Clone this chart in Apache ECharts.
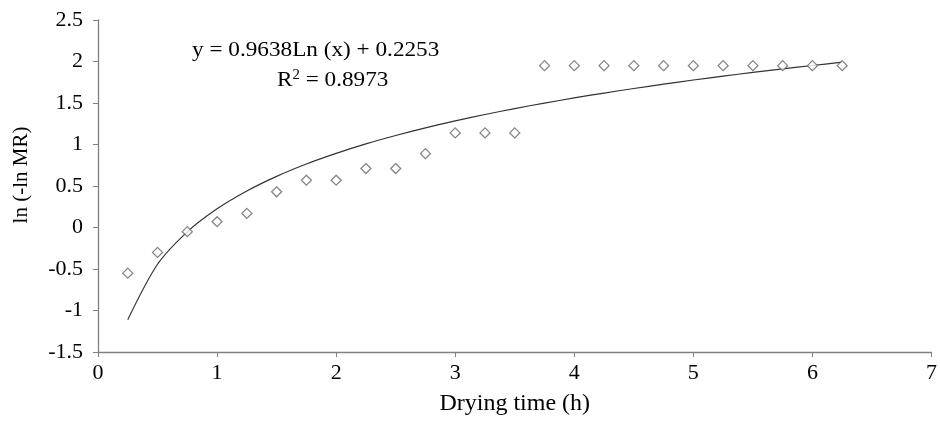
<!DOCTYPE html>
<html><head><meta charset="utf-8">
<script src="https://cdn.jsdelivr.net/npm/echarts@6/dist/echarts.min.js"></script>
<style>html,body{margin:0;padding:0;background:#fff}#c{width:940px;height:421px}</style>
</head><body><div id="c"></div>
<script>
const times = [0.25,0.5,0.75,1,1.25,1.5,1.75,2,2.25,2.5,2.75,3,3.25,3.5,3.75,4,4.25,4.5,4.75,5,5.25,5.5,5.75,6,6.25];
const observed = [-0.55,-0.30,-0.05,0.07,0.17,0.43,0.57,0.57,0.71,0.71,0.89,1.14,1.14,1.14,1.95,1.95,1.95,1.95,1.95,1.95,1.95,1.95,1.95,1.95,1.95];
const trend = [-1.111,-0.443,-0.052,0.225,0.440,0.616,0.765,0.893,1.007,1.108,1.200,1.284,1.361,1.433,1.499,1.561,1.620,1.675,1.727,1.777,1.824,1.868,1.911,1.952,1.992];
const eqText = 'y = 0.9638Ln (x) + 0.2253';
const r2Text = 'R{sup|2} = 0.8973';
const font = '"Liberation Serif", "Times New Roman", serif';
const chart = echarts.init(document.getElementById('c'));
chart.setOption({
  animation:false,
  grid:{left:98,right:8,top:20,bottom:66},
  xAxis:{type:'value',min:0,max:7,interval:1,
    name:'Drying time (h)',nameLocation:'middle',nameGap:40,
    nameTextStyle:{fontFamily:font,fontSize:24,color:'#000'},
    axisLine:{onZero:false,lineStyle:{color:'#808080',width:1.3}},
    axisTick:{show:true,inside:false,length:5,lineStyle:{color:'#808080'}},
    axisLabel:{fontFamily:font,fontSize:22,color:'#000',margin:10},
    splitLine:{show:false}},
  yAxis:{type:'value',min:-1.5,max:2.5,interval:0.5,
    name:'ln (-ln MR)',nameLocation:'middle',nameGap:66,nameRotate:90,
    nameTextStyle:{fontFamily:font,fontSize:21,color:'#000',padding:[0,0,0,22]},
    axisLine:{show:true,onZero:false,lineStyle:{color:'#808080',width:1.3}},
    axisTick:{show:true,inside:false,length:5,lineStyle:{color:'#808080'}},
    axisLabel:{fontFamily:font,fontSize:22,color:'#000',margin:15},
    splitLine:{show:false}},
  series:[
    {type:'line',data:times.map((t,i)=>[t,trend[i]]),showSymbol:false,smooth:0.3,
     lineStyle:{color:'#333',width:1.2},z:2},
    {type:'scatter',data:times.map((t,i)=>[t,observed[i]]),symbol:'diamond',symbolSize:[10,10],
     itemStyle:{color:'#fff',borderColor:'#666',borderWidth:1.3},z:3}
  ],
  graphic:[
    {type:'text',x:192,y:50,scaleX:1.055,style:{text:eqText,font:'22px '+font,fill:'#000',textVerticalAlign:'middle'}},
    {type:'text',x:277,y:80,scaleX:1.055,style:{text:r2Text,font:'22px '+font,fill:'#000',textVerticalAlign:'middle',
      rich:{sup:{fontSize:14,verticalAlign:'top',padding:[0,0,10,0],fontFamily:font}}}}
  ]
});
</script></body></html>
